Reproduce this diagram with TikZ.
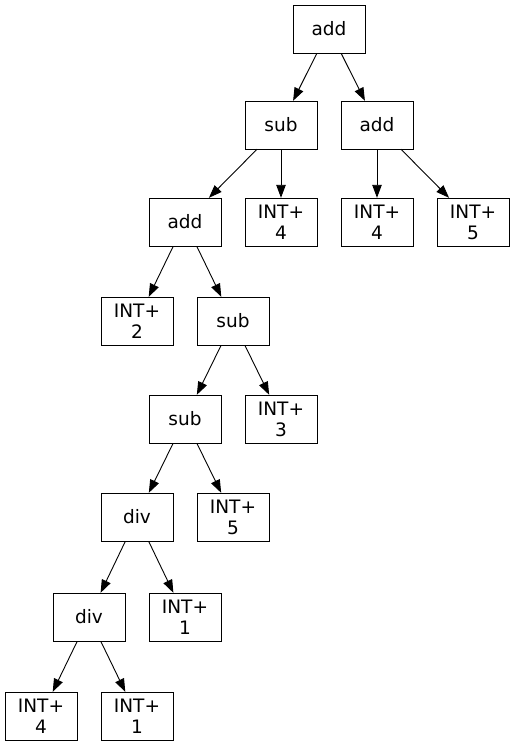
\documentclass[tikz,border=0pt]{standalone}
\usepackage{fontspec}
\setmainfont{DejaVu Sans}
\usetikzlibrary{arrows.meta}
\begin{document}
\begin{tikzpicture}[x=1pt, y=-1pt,
    every node/.style={draw, rectangle, minimum width=72pt, minimum height=48pt, inner xsep=6pt, inner ysep=4pt, align=center, font=\fontsize{18.5}{21}\selectfont},
    link/.style={-{Triangle[length=13pt, width=9.5pt]}, line width=0.9pt}]
    \useasboundingbox (0,0) rectangle (515,747);
    % Rank 1 and 2
    \node (n0) at (329,29)  {add};
    \node (n1) at (281,125) {sub};
    \node (n2) at (377,125) {add};
    % Rank 3
    \node (n3) at (185,222) {add};
    \node (n4) at (281,222) {INT+\\4};
    \node (n5) at (377,222) {INT+\\4};
    \node (n6) at (473,222) {INT+\\5};
    % Rank 4 and 5
    \node (n7) at (137,321) {INT+\\2};
    \node (n8) at (233,321) {sub};
    \node (n9) at (185,419) {sub};
    \node (n10) at (281,419) {INT+\\3};
    % Rank 6 and 7
    \node (n11) at (137,517) {div};
    \node (n12) at (233,517) {INT+\\5};
    \node (n13) at (89,617)  {div};
    \node (n14) at (185,617) {INT+\\1};
    % Rank 8 (leaves)
    \node (n15) at (41,716)  {INT+\\4};
    \node (n16) at (137,716) {INT+\\1};

    % Parent to child
    \draw[link] (n0) -- (n1);
    \draw[link] (n0) -- (n2);
    \draw[link] (n1) -- (n3);
    \draw[link] (n1) -- (n4);
    \draw[link] (n2) -- (n5);
    \draw[link] (n2) -- (n6);
    \draw[link] (n3) -- (n7);
    \draw[link] (n3) -- (n8);
    \draw[link] (n8) -- (n9);
    \draw[link] (n8) -- (n10);
    \draw[link] (n9) -- (n11);
    \draw[link] (n9) -- (n12);
    \draw[link] (n11) -- (n13);
    \draw[link] (n11) -- (n14);
    \draw[link] (n13) -- (n15);
    \draw[link] (n13) -- (n16);
\end{tikzpicture}
\end{document}
